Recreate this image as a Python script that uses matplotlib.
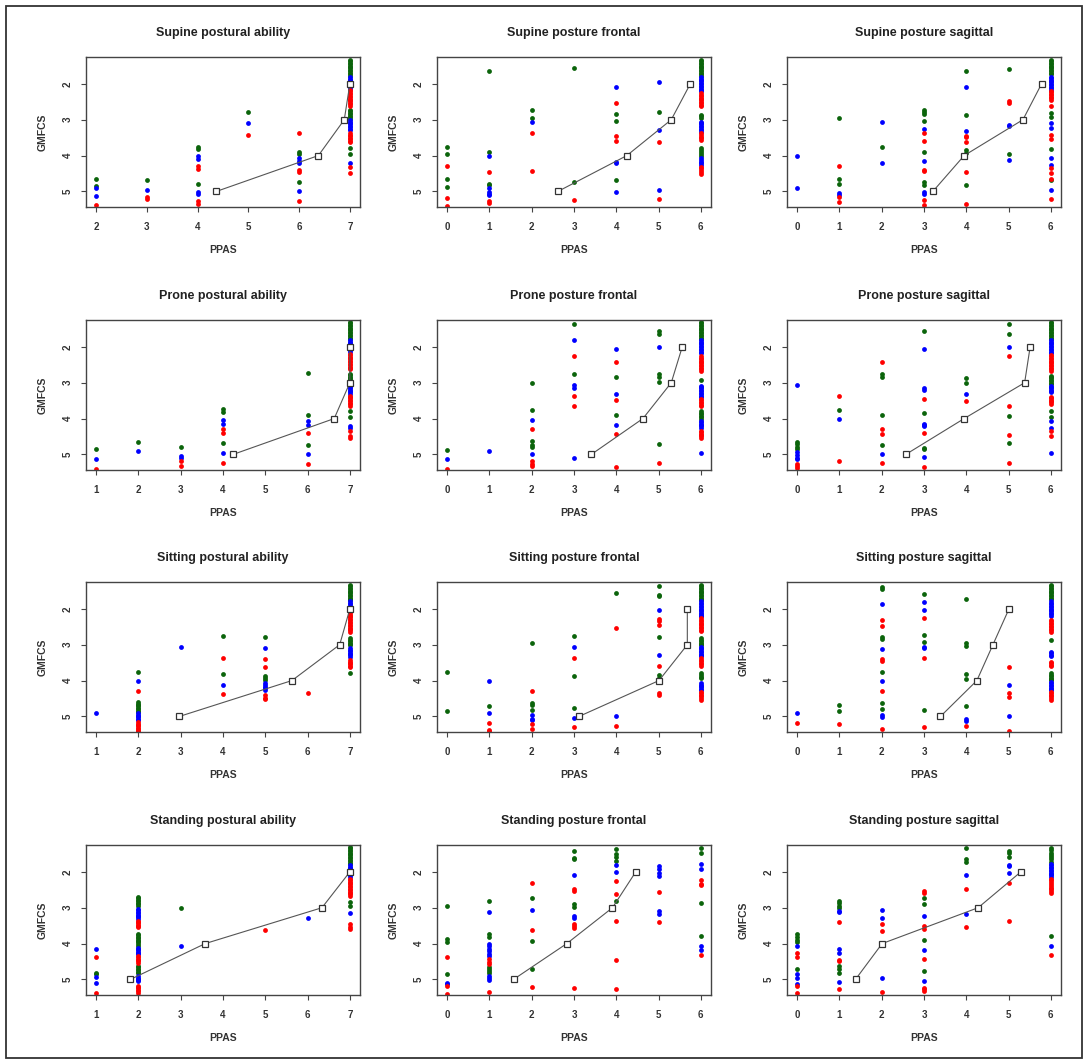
import matplotlib
matplotlib.use("Agg")
import matplotlib.pyplot as plt
from matplotlib.patches import Rectangle

plt.rcParams['font.family'] = ['Liberation Sans', 'DejaVu Sans']

GREEN = '#0b640b'
BLUE = '#0000ff'
RED = '#ff0000'

gmfcs_levels = [5, 4, 3, 2]

# ---- Supine postural ability ----
sup_abil_green = {2: [4.64, 4.84], 3: [4.69], 4: [3.75, 3.83, 4.78], 5: [2.79], 6: [3.90, 3.95, 4.73],
                  7: [1.33, 1.37, 1.41, 1.45, 1.49, 1.53, 1.57, 1.61, 1.65, 1.69, 1.73, 1.77,
                      2.73, 2.77, 2.81, 2.85, 2.89, 2.93, 2.97, 3.80, 3.97]}
sup_abil_blue = {2: [4.90, 5.13], 3: [4.95], 4: [4.01, 4.10, 5.01, 5.08], 5: [3.08], 6: [4.07, 4.15, 4.22, 5.00],
                 7: [1.81, 1.85, 1.89, 1.93, 1.97, 2.01, 2.05, 2.09, 2.13,
                     3.01, 3.05, 3.09, 3.13, 3.17, 3.21, 3.25, 3.29, 4.22]}
sup_abil_red = {2: [5.38], 3: [5.15, 5.21], 4: [4.29, 4.38, 5.28, 5.34], 5: [3.42], 6: [3.36, 4.41, 4.46, 5.26],
                7: [2.17, 2.21, 2.25, 2.29, 2.33, 2.37, 2.41, 2.45, 2.49, 2.53, 2.57, 2.61,
                    3.38, 3.42, 3.46, 3.50, 3.54, 3.58, 3.62, 4.31, 4.50]}
sup_abil_mean = [4.37, 6.38, 6.89, 7.0]

# ---- Supine posture frontal ----
sup_front_green = {0: [3.75, 3.95, 4.65, 4.87], 1: [1.65, 3.89, 4.78, 4.81], 2: [2.74, 2.96], 3: [1.56, 4.73],
                   4: [2.84, 3.03, 4.69], 5: [2.79],
                   6: [1.33, 1.37, 1.41, 1.45, 1.49, 1.53, 1.57, 1.61, 1.65, 1.69, 1.73, 1.77,
                       2.87, 2.91, 2.96, 3.80, 3.85, 3.90, 3.95, 4.00]}
sup_front_blue = {1: [4.01, 4.91, 5.01, 5.06, 5.11], 2: [3.06], 4: [2.09, 4.17, 4.20, 5.01], 5: [1.96, 3.29, 4.95],
                  6: [1.81, 1.85, 1.89, 1.93, 1.97, 2.01, 2.05, 2.09, 2.13, 2.17, 2.21,
                      3.05, 3.09, 3.13, 3.17, 3.21, 3.25, 3.29, 3.33, 4.08, 4.13, 4.18, 4.22, 4.26]}
sup_front_red = {0: [4.29, 5.17, 5.40], 1: [4.47, 5.28, 5.33], 2: [3.38, 4.42], 3: [5.25], 4: [2.52, 3.45, 3.58],
                 5: [3.63, 5.22],
                 6: [2.26, 2.30, 2.34, 2.38, 2.42, 2.46, 2.50, 2.54, 2.58, 2.63,
                     3.38, 3.42, 3.47, 3.52, 3.57, 4.31, 4.36, 4.41, 4.46, 4.52]}
sup_front_mean = [2.62, 4.25, 5.30, 5.75]

# ---- Supine posture sagittal ----
sup_sag_green = {1: [2.96, 4.64, 4.78], 2: [3.75], 3: [2.73, 2.79, 2.85, 3.03, 3.91, 4.73, 4.82],
                 4: [1.64, 2.88, 3.85, 3.94, 4.81], 5: [1.59, 3.97],
                 6: [1.33, 1.37, 1.41, 1.45, 1.49, 1.53, 1.57, 1.61, 1.65, 1.69, 1.73,
                     2.80, 2.93, 3.82, 4.69]}
sup_sag_blue = {0: [4.01, 4.90], 1: [5.04, 5.10], 2: [3.06, 4.20], 3: [3.27, 4.16, 5.01, 5.06], 4: [2.09, 3.31],
                5: [3.15, 3.17, 4.11],
                6: [1.80, 1.84, 1.88, 1.92, 1.96, 2.00, 2.04, 2.08, 2.12, 2.16,
                    3.10, 3.24, 4.07, 4.25, 4.95]}
sup_sag_red = {1: [4.28, 5.15, 5.29], 3: [3.38, 3.58, 4.39, 4.42, 5.24, 5.38], 4: [3.45, 3.49, 3.63, 4.47, 5.34],
               5: [2.49, 2.54],
               6: [2.20, 2.24, 2.28, 2.32, 2.36, 2.40, 2.45, 2.62, 3.43, 3.55, 4.36, 4.50, 4.64, 5.22]}
sup_sag_mean = [3.21, 3.95, 5.34, 5.78]

# ---- Prone postural ability ----
prone_abil_green = {1: [4.86], 2: [4.65], 3: [4.78], 4: [3.73, 3.83, 4.69], 6: [2.73, 3.90, 4.73],
                    7: [1.30, 1.34, 1.38, 1.42, 1.46, 1.50, 1.54, 1.58, 1.62, 1.66, 1.70, 1.74, 1.78,
                        2.75, 2.79, 2.83, 2.87, 2.91, 2.95, 2.99, 3.80, 3.97]}
prone_abil_blue = {1: [5.14], 2: [4.91], 3: [5.05, 5.09], 4: [4.03, 4.16, 4.95], 6: [4.08, 4.17, 5.00],
                   7: [1.81, 1.85, 1.89, 1.93, 1.97, 2.01, 2.05, 2.09, 2.13,
                       3.03, 3.07, 3.11, 3.15, 3.19, 3.23, 3.27, 3.31, 4.20, 4.25]}
prone_abil_red = {1: [5.40], 3: [5.19, 5.33], 4: [4.30, 4.41, 5.23], 6: [4.41, 5.26],
                  7: [2.19, 2.23, 2.27, 2.31, 2.35, 2.39, 2.43, 2.47, 2.51, 2.55, 2.59, 2.63,
                      3.36, 3.40, 3.44, 3.48, 3.52, 3.56, 3.60, 3.64, 4.34, 4.48, 4.53]}
prone_abil_mean = [4.24, 6.63, 7.0, 7.0]

# ---- Prone posture frontal ----
prone_front_green = {0: [4.88], 2: [3.01, 3.75, 4.63, 4.74, 4.80], 3: [1.37, 2.75], 4: [2.84, 3.90],
                     5: [1.55, 1.64, 2.77, 2.84, 2.97, 4.70],
                     6: [1.30, 1.34, 1.38, 1.42, 1.46, 1.50, 1.54, 1.58, 1.62, 1.66, 1.70, 1.74, 1.78,
                         2.92, 3.80, 3.84, 3.88, 3.92, 3.96, 4.01]}
prone_front_blue = {0: [5.14], 1: [4.91], 2: [4.03, 5.00], 3: [1.81, 3.05, 3.14, 5.09], 4: [2.07, 3.31, 4.17],
                    5: [2.00],
                    6: [1.81, 1.85, 1.89, 1.93, 1.97, 2.01, 2.05, 2.09, 2.13, 2.16,
                        3.08, 3.12, 3.16, 3.20, 3.24, 3.28, 3.32, 3.36, 3.41, 4.06, 4.10, 4.14, 4.18, 4.22, 4.25, 4.97]}
prone_front_red = {0: [5.40], 2: [4.30, 5.17, 5.26, 5.33], 3: [2.26, 3.36, 3.64], 4: [2.43, 3.47, 4.42, 5.36],
                   5: [5.23],
                   6: [2.26, 2.30, 2.34, 2.38, 2.42, 2.46, 2.50, 2.54, 2.58, 2.62, 2.66,
                       3.45, 3.49, 3.53, 3.57, 3.61, 3.64, 4.34, 4.38, 4.42, 4.46, 4.50, 4.53]}
prone_front_mean = [3.41, 4.63, 5.30, 5.56]

# ---- Prone posture sagittal ----
prone_sag_green = {0: [4.64, 4.72, 4.79, 4.86], 1: [3.75], 2: [2.75, 2.84, 3.89, 4.74], 3: [1.56, 3.85, 4.81, 4.86],
                   4: [2.86, 3.01], 5: [1.36, 1.64, 3.94, 4.69],
                   6: [1.30, 1.34, 1.38, 1.42, 1.46, 1.50, 1.54, 1.58, 1.62, 1.66, 1.70, 1.74, 1.78,
                       2.80, 2.84, 2.88, 2.92, 2.96, 3.00, 3.03, 3.80, 3.97]}
prone_sag_blue = {0: [3.06, 4.92, 5.02, 5.09, 5.14], 1: [4.02], 2: [5.00], 3: [2.07, 3.15, 3.19, 4.14, 4.17, 4.21, 5.08],
                  4: [3.31], 5: [2.00],
                  6: [1.81, 1.85, 1.89, 1.93, 1.97, 2.01, 2.05, 2.09, 2.13, 2.16,
                      3.08, 3.12, 3.16, 3.20, 3.24, 3.27, 4.06, 4.25, 4.95]}
prone_sag_red = {0: [5.28, 5.33, 5.39], 1: [3.37, 5.18], 2: [2.43, 4.30, 4.42, 5.25], 3: [3.46, 4.39, 5.36],
                 4: [3.50], 5: [2.26, 3.64, 4.46, 5.23],
                 6: [2.22, 2.26, 2.30, 2.34, 2.38, 2.42, 2.46, 2.50, 2.54, 2.58, 2.62, 2.66,
                     3.39, 3.43, 3.47, 3.51, 3.55, 3.59, 4.34, 4.50]}
prone_sag_mean = [2.57, 3.95, 5.38, 5.51]

# ---- Sitting postural ability ----
sit_abil_green = {2: [3.76, 4.60, 4.64, 4.68, 4.72, 4.76, 4.80, 4.84, 4.88], 4: [2.75, 3.83],
                  5: [2.79, 3.87, 3.94, 3.99],
                  7: [1.33, 1.37, 1.41, 1.45, 1.49, 1.53, 1.57, 1.61, 1.65, 1.69, 1.73, 1.75,
                      2.82, 2.86, 2.90, 2.94, 2.98, 3.01, 3.80]}
sit_abil_blue = {1: [4.91], 2: [4.02, 4.91, 4.95, 4.99, 5.03, 5.07, 5.11], 3: [3.07], 4: [4.11],
                 5: [3.09, 4.07, 4.12, 4.17, 4.22, 4.25],
                 7: [1.79, 1.83, 1.87, 1.91, 1.95, 1.99, 2.03, 2.07,
                     3.10, 3.14, 3.18, 3.22, 3.26, 3.30, 3.34]}
sit_abil_red = {2: [4.29, 5.16, 5.20, 5.24, 5.28, 5.32, 5.36, 5.40, 5.42], 4: [3.36, 4.37],
                5: [3.41, 3.63, 4.41, 4.48, 4.52], 6: [4.35],
                7: [2.12, 2.16, 2.20, 2.24, 2.28, 2.32, 2.36, 2.40, 2.44, 2.48, 2.52, 2.56, 2.60, 2.64,
                    3.43, 3.47, 3.51, 3.55, 3.59, 3.62]}
sit_abil_mean = [2.97, 5.63, 6.76, 7.0]

# ---- Sitting posture frontal ----
sit_front_green = {0: [3.76, 4.86], 1: [4.72], 2: [2.96, 4.63, 4.69, 4.81], 3: [2.75, 3.88, 4.77], 4: [1.56],
                   5: [1.37, 1.61, 1.64, 2.79, 3.85, 3.94, 3.99],
                   6: [1.33, 1.37, 1.41, 1.45, 1.49, 1.53, 1.57, 1.61, 1.65, 1.69, 1.73, 1.75,
                       2.82, 2.86, 2.90, 2.94, 2.98, 3.01, 3.80, 3.85, 3.90, 3.94]}
sit_front_blue = {1: [4.02, 4.91], 2: [4.95, 5.07, 5.11], 3: [3.07, 5.04], 4: [5.00], 5: [2.04, 3.28],
                  6: [1.79, 1.83, 1.87, 1.91, 1.95, 1.99, 2.03, 2.07, 2.11, 2.15, 2.19, 2.21,
                      3.05, 3.09, 3.13, 3.17, 3.21, 3.25, 3.29, 3.32, 4.07, 4.11, 4.15, 4.19, 4.23, 4.25]}
sit_front_red = {1: [5.18, 5.39, 5.42], 2: [4.29, 5.21, 5.36], 3: [3.36, 5.30], 4: [2.52, 5.26],
                 5: [2.28, 2.33, 2.45, 3.58, 4.36, 4.40],
                 6: [2.26, 2.30, 2.34, 2.38, 2.42, 2.46, 2.50, 2.54, 2.58, 2.63,
                     3.38, 3.42, 3.46, 3.50, 3.54, 3.58, 4.32, 4.36, 4.40, 4.44, 4.48, 4.53]}
sit_front_mean = [3.12, 5.01, 5.68, 5.68]

# ---- Sitting posture sagittal ----
sit_sag_green = {1: [4.69, 4.86], 2: [1.39, 1.44, 2.79, 2.85, 3.76, 4.63, 4.78], 3: [1.59, 2.74, 2.92, 4.81],
                 4: [1.73, 2.96, 3.03, 3.82, 3.96, 4.72],
                 6: [1.33, 1.37, 1.41, 1.45, 1.49, 1.53, 1.57, 1.61, 1.65, 1.69, 1.73,
                     2.87, 3.80, 3.84, 3.88, 3.92, 3.96, 3.99]}
sit_sag_blue = {0: [4.90], 2: [1.87, 3.13, 4.02, 4.95, 5.02], 3: [1.81, 2.04, 3.06, 3.10], 4: [5.08, 5.13],
                5: [4.11, 5.00],
                6: [1.79, 1.83, 1.87, 1.91, 1.95, 1.99, 2.03, 2.07, 2.11, 2.15, 2.19,
                    3.20, 3.24, 3.28, 3.32, 4.04, 4.08, 4.12, 4.16, 4.20, 4.24, 4.27]}
sit_sag_red = {0: [5.18], 1: [5.21], 2: [2.31, 2.49, 3.41, 3.45, 4.29, 5.35], 3: [2.26, 3.36, 5.30], 4: [5.26],
               5: [3.63, 4.36, 4.46, 5.40],
               6: [2.31, 2.35, 2.39, 2.43, 2.47, 2.51, 2.55, 2.59, 2.64,
                   3.48, 3.52, 3.56, 3.60, 4.32, 4.36, 4.40, 4.44, 4.48, 4.53]}
sit_sag_mean = [3.39, 4.25, 4.63, 5.01]

# ---- Standing postural ability ----
stand_abil_green = {1: [4.81, 4.86],
                    2: [2.70, 2.74, 2.78, 2.82, 2.86, 2.90, 2.94, 3.73, 3.77, 3.81, 3.85, 3.89, 3.93, 3.97,
                        4.01, 4.06, 4.62, 4.66, 4.70, 4.74, 4.78, 4.81],
                    3: [3.00],
                    7: [1.30, 1.34, 1.38, 1.42, 1.46, 1.50, 1.54, 1.58, 1.62, 1.66, 1.70, 1.74, 1.78,
                        2.84, 2.94]}
stand_abil_blue = {1: [4.16, 4.92, 5.09],
                   2: [3.03, 3.07, 3.11, 3.15, 3.19, 3.23, 3.27, 3.31, 4.11, 4.15, 4.19, 4.23, 4.27, 4.30,
                       4.91, 4.95, 4.99, 5.03, 5.05],
                   3: [4.07], 6: [3.29],
                   7: [1.81, 1.85, 1.89, 1.93, 1.97, 2.01, 2.05, 2.09, 2.14, 3.14]}
stand_abil_red = {1: [4.38, 5.39],
                  2: [3.36, 3.40, 3.44, 3.48, 3.52, 3.55, 4.34, 4.38, 4.42, 4.46, 4.50, 4.53,
                      5.17, 5.21, 5.25, 5.29, 5.33, 5.37],
                  5: [3.63],
                  7: [2.19, 2.23, 2.27, 2.31, 2.35, 2.39, 2.43, 2.47, 2.51, 2.55, 2.59, 2.63, 2.66,
                      3.45, 3.55, 3.59]}
stand_abil_mean = [1.81, 3.58, 6.34, 7.0]

# ---- Standing posture frontal ----
stand_front_green = {0: [2.96, 3.87, 3.97, 4.86], 1: [2.82, 3.73, 3.83, 4.64, 4.70, 4.76, 4.81],
                     2: [2.73, 3.94, 4.71], 3: [1.41, 1.60, 1.64, 2.89, 2.98], 4: [1.35, 1.51, 1.58, 1.70, 2.80],
                     6: [1.32, 1.46, 2.86, 3.80]}
stand_front_blue = {0: [5.09, 5.14], 1: [3.13, 4.01, 4.08, 4.15, 4.22, 4.29, 4.34, 4.91, 4.97, 5.03],
                    2: [3.05], 3: [2.08, 3.22, 3.28], 4: [1.81, 2.00], 5: [1.84, 1.93, 2.02, 2.11, 3.08, 3.17],
                    6: [1.77, 1.91, 4.06, 4.18]}
stand_front_red = {0: [4.37, 5.19, 5.40], 1: [4.44, 4.51, 4.58, 5.35], 2: [2.30, 3.62, 5.22],
                   3: [2.47, 2.53, 3.45, 3.52, 3.57, 5.25], 4: [2.26, 2.61, 3.36, 4.46, 5.28], 5: [2.56, 3.39],
                   6: [2.22, 2.33, 2.37, 4.32]}
stand_front_mean = [1.57, 2.83, 3.91, 4.46]

# ---- Standing posture sagittal ----
stand_sag_green = {0: [3.73, 3.83, 3.89, 3.97, 4.72], 1: [2.80, 2.86, 2.94, 3.01, 4.62, 4.70, 4.81],
                   3: [2.73, 2.91, 3.90, 4.76], 4: [1.32, 1.63, 1.72], 5: [1.41, 1.48, 1.58],
                   6: [1.34, 1.40, 1.46, 1.52, 1.58, 1.64, 1.72, 3.80]}
stand_sag_blue = {0: [4.08, 4.86, 4.95, 5.12], 1: [3.09, 3.12, 4.16, 4.25, 5.07], 2: [3.06, 3.29, 4.95],
                  3: [3.24, 4.18, 5.05], 4: [2.08, 3.17], 5: [1.81, 1.84, 2.03],
                  6: [1.77, 1.82, 1.86, 1.90, 1.94, 1.98, 2.02, 2.06, 2.10, 2.14, 4.06]}
stand_sag_red = {0: [4.25, 4.37, 5.19, 5.39], 1: [3.41, 4.46, 4.50, 5.26], 2: [3.45, 3.64, 5.35],
                 3: [2.52, 2.59, 3.50, 3.59, 4.42, 5.23, 5.28, 5.33], 4: [2.48, 3.53], 5: [2.30, 3.36],
                 6: [2.19, 2.24, 2.29, 2.34, 2.39, 2.44, 2.49, 2.54, 2.59, 4.32]}
stand_sag_mean = [1.38, 2.01, 4.28, 5.29]

titles = ['Supine postural ability', 'Supine posture frontal', 'Supine posture sagittal',
          'Prone postural ability', 'Prone posture frontal', 'Prone posture sagittal',
          'Sitting postural ability', 'Sitting posture frontal', 'Sitting posture sagittal',
          'Standing postural ability', 'Standing posture frontal', 'Standing posture sagittal']
x_ticks = [[2, 3, 4, 5, 6, 7], [0, 1, 2, 3, 4, 5, 6], [0, 1, 2, 3, 4, 5, 6],
           [1, 2, 3, 4, 5, 6, 7], [0, 1, 2, 3, 4, 5, 6], [0, 1, 2, 3, 4, 5, 6],
           [1, 2, 3, 4, 5, 6, 7], [0, 1, 2, 3, 4, 5, 6], [0, 1, 2, 3, 4, 5, 6],
           [1, 2, 3, 4, 5, 6, 7], [0, 1, 2, 3, 4, 5, 6], [0, 1, 2, 3, 4, 5, 6]]
y_ticks = [2, 3, 4, 5]

panels = [
    (sup_abil_green, sup_abil_blue, sup_abil_red, sup_abil_mean),
    (sup_front_green, sup_front_blue, sup_front_red, sup_front_mean),
    (sup_sag_green, sup_sag_blue, sup_sag_red, sup_sag_mean),
    (prone_abil_green, prone_abil_blue, prone_abil_red, prone_abil_mean),
    (prone_front_green, prone_front_blue, prone_front_red, prone_front_mean),
    (prone_sag_green, prone_sag_blue, prone_sag_red, prone_sag_mean),
    (sit_abil_green, sit_abil_blue, sit_abil_red, sit_abil_mean),
    (sit_front_green, sit_front_blue, sit_front_red, sit_front_mean),
    (sit_sag_green, sit_sag_blue, sit_sag_red, sit_sag_mean),
    (stand_abil_green, stand_abil_blue, stand_abil_red, stand_abil_mean),
    (stand_front_green, stand_front_blue, stand_front_red, stand_front_mean),
    (stand_sag_green, stand_sag_blue, stand_sag_red, stand_sag_mean),
]

W, H = 1087, 1062
fig = plt.figure(figsize=(W / 100, H / 100), dpi=100)
fig.patch.set_facecolor('white')

# outer frame
fig.patches.append(Rectangle((6 / W, 4 / H), 1076 / W, 1052 / H, transform=fig.transFigure,
                             fill=False, edgecolor='#333333', linewidth=1.3))

col_left = [86, 437, 787]
row_top = [57, 320, 582, 845]
ax_w, ax_h = 274, 150
frame_col = '#444444'


def flatten(d):
    xs, ys = [], []
    for k, vals in d.items():
        xs += [k] * len(vals)
        ys += vals
    return xs, ys


for i, (green, blue, red, mean_x) in enumerate(panels):
    r, c = divmod(i, 3)
    ax = fig.add_axes([col_left[c] / W, 1 - (row_top[r] + ax_h) / H, ax_w / W, ax_h / H])
    for d, col in ((green, GREEN), (blue, BLUE), (red, RED)):
        xs, ys = flatten(d)
        ax.scatter(xs, ys, s=12, color=col, linewidths=0, zorder=2)
    ax.plot(mean_x, gmfcs_levels, color='#555555', lw=0.8, zorder=3)
    ax.plot(mean_x, gmfcs_levels, ls='none', marker='s', ms=5, mfc='white', mec='#333333',
            mew=0.9, zorder=4)

    xt = x_ticks[i]
    pad = 0.04 * (xt[-1] - xt[0])
    ax.set_xlim(xt[0] - pad, xt[-1] + pad)
    ax.set_ylim(5.435, 1.25)
    ax.set_xticks(xt)
    ax.set_yticks(y_ticks)
    ax.set_xticklabels([str(v) for v in xt], fontsize=7, fontweight='bold', color='#333333')
    ax.set_yticklabels([str(v) for v in y_ticks], fontsize=7, fontweight='bold', color='#333333',
                       rotation=90, va='center')
    ax.tick_params(axis='both', direction='out', length=3.6, width=0.8, color=frame_col)
    ax.tick_params(axis='x', pad=7)
    ax.tick_params(axis='y', pad=6)
    for sp in ax.spines.values():
        sp.set_color(frame_col)
        sp.set_linewidth(1.0)

    ax.annotate(titles[i], xy=(0.5, 1), xycoords='axes fraction', xytext=(0, 24),
                textcoords='offset pixels', ha='center', va='center', fontsize=9,
                fontweight='bold', color='#222222')
    ax.annotate('PPAS', xy=(0.5, 0), xycoords='axes fraction', xytext=(0, -43),
                textcoords='offset pixels', ha='center', va='center', fontsize=7.5,
                fontweight='bold', color='#333333')
    ax.annotate('GMFCS', xy=(0, 0.5), xycoords='axes fraction', xytext=(-43, 0),
                textcoords='offset pixels', ha='center', va='center', fontsize=7.5,
                fontweight='bold', color='#333333', rotation=90)

fig.savefig('out.png', dpi=100, facecolor='white')
